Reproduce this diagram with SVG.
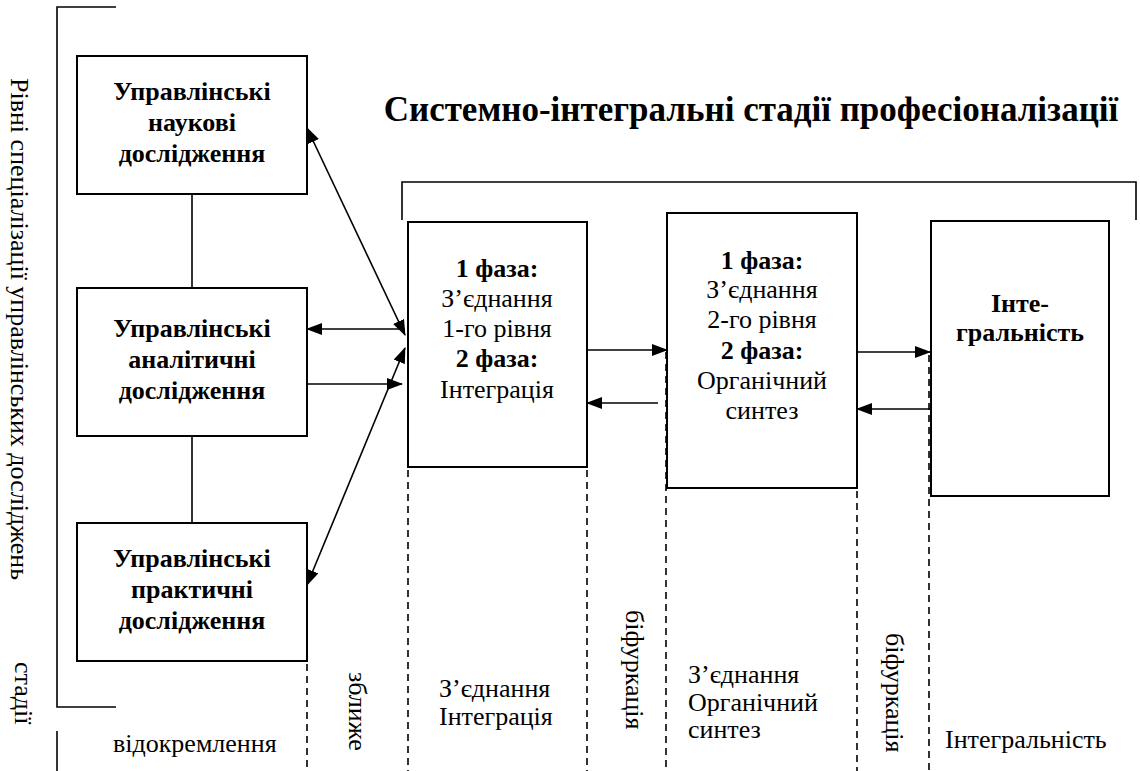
<svg xmlns="http://www.w3.org/2000/svg" width="1140" height="771" viewBox="0 0 1140 771">
<style>
.box{fill:#fff;stroke:#000;stroke-width:2}
.ln{fill:none;stroke:#000;stroke-width:1.6}
.dash{fill:none;stroke:#000;stroke-width:1.6;stroke-dasharray:7,5}
.b{font-family:"Liberation Serif","Times New Roman",serif;font-weight:bold;font-size:26px;fill:#000;text-anchor:middle}
.r{font-family:"Liberation Serif","Times New Roman",serif;font-size:26px;fill:#000}
.rc{font-family:"Liberation Serif","Times New Roman",serif;font-size:26px;fill:#000;text-anchor:middle}
.title{font-family:"Liberation Serif","Times New Roman",serif;font-weight:bold;font-size:35px;fill:#000;text-anchor:middle}
</style>
<defs>
<marker id="ah" markerUnits="userSpaceOnUse" markerWidth="16" markerHeight="12" refX="15" refY="6" orient="auto-start-reverse">
<path d="M0,0 L16,6 L0,12 Z" fill="#000"/>
</marker>
</defs>
<rect width="1140" height="771" fill="#fff"/>

<g id="side-bracket">
<polyline class="ln" points="116,7 57,7 57,707 116,707"/>
<line class="ln" x1="57" y1="731" x2="57" y2="771"/>
<text class="r" transform="translate(11,78) rotate(90)">Рівні спеціалізації управлінських досліджень</text>
<text class="r" transform="translate(15,662) rotate(90)">стадії</text>
</g>

<g id="title">
<text class="title" x="751" y="121">Системно-інтегральні стадії професіоналізації</text>
<polyline class="ln" points="402,220 402,182 1136,182 1136,220"/>
</g>

<g id="dashes">
<line class="dash" x1="307" y1="664" x2="307" y2="771"/>
<line class="dash" x1="408" y1="470" x2="408" y2="771"/>
<line class="dash" x1="587" y1="470" x2="587" y2="771"/>
<line class="dash" x1="666" y1="352" x2="666" y2="771"/>
<line class="dash" x1="857" y1="491" x2="857" y2="771"/>
<line class="dash" x1="929" y1="355" x2="929" y2="771"/>
</g>

<g id="connectors">
<line class="ln" x1="192" y1="194" x2="192" y2="288"/>
<line class="ln" x1="192" y1="436" x2="192" y2="523"/>
<line class="ln" x1="307" y1="128" x2="405" y2="335" marker-start="url(#ah)" marker-end="url(#ah)"/>
<line class="ln" x1="405" y1="329" x2="307" y2="329" marker-end="url(#ah)"/>
<line class="ln" x1="307" y1="384" x2="402" y2="384" marker-end="url(#ah)"/>
<line class="ln" x1="307" y1="585" x2="405" y2="348" marker-start="url(#ah)" marker-end="url(#ah)"/>
<line class="ln" x1="587" y1="350" x2="667" y2="350" marker-end="url(#ah)"/>
<line class="ln" x1="658" y1="403" x2="587" y2="403" marker-end="url(#ah)"/>
<line class="ln" x1="857" y1="352" x2="930" y2="352" marker-end="url(#ah)"/>
<line class="ln" x1="932" y1="409" x2="857" y2="409" marker-end="url(#ah)"/>
</g>

<g id="node-science">
<rect class="box" x="77" y="56" width="230" height="138"/>
<text class="b" x="192" y="100">Управлінські</text>
<text class="b" x="192" y="131">наукові</text>
<text class="b" x="192" y="162">дослідження</text>
</g>
<g id="node-analytic">
<rect class="box" x="77" y="288" width="230" height="148"/>
<text class="b" x="192" y="337">Управлінські</text>
<text class="b" x="192" y="368">аналітичні</text>
<text class="b" x="192" y="399">дослідження</text>
</g>
<g id="node-practical">
<rect class="box" x="77" y="523" width="230" height="138"/>
<text class="b" x="192" y="567">Управлінські</text>
<text class="b" x="192" y="598">практичні</text>
<text class="b" x="192" y="629">дослідження</text>
</g>

<g id="node-phase1">
<rect class="box" x="408" y="222" width="179" height="245"/>
<text class="b" x="497" y="277">1 фаза:</text>
<text class="rc" x="497" y="307">З’єднання</text>
<text class="rc" x="497" y="337">1-го рівня</text>
<text class="b" x="497" y="367">2 фаза:</text>
<text class="rc" x="497" y="398">Інтеграція</text>
</g>
<g id="node-phase2">
<rect class="box" x="667" y="213" width="190" height="275"/>
<text class="b" x="762" y="269">1 фаза:</text>
<text class="rc" x="762" y="298">З’єднання</text>
<text class="rc" x="762" y="328">2-го рівня</text>
<text class="b" x="762" y="359">2 фаза:</text>
<text class="rc" x="762" y="389">Органічний</text>
<text class="rc" x="762" y="419">синтез</text>
</g>
<g id="node-integral">
<rect class="box" x="931" y="221" width="178" height="275"/>
<text class="b" x="1020" y="312">Інте-</text>
<text class="b" x="1020" y="341">гральність</text>
</g>

<g id="stage-labels">
<text class="r" x="113" y="752">відокремлення</text>
<text class="r" transform="translate(349,672) rotate(90)">зближе</text>
<text class="r" x="439" y="697">З’єднання</text>
<text class="r" x="439" y="725">Інтеграція</text>
<text class="r" transform="translate(626,610) rotate(90)">біфуркація</text>
<text class="r" x="688" y="683">З’єднання</text>
<text class="r" x="688" y="711">Органічний</text>
<text class="r" x="688" y="738">синтез</text>
<text class="r" transform="translate(886,633) rotate(90)">біфуркація</text>
<text class="r" x="945" y="748">Інтегральність</text>
</g>
</svg>
